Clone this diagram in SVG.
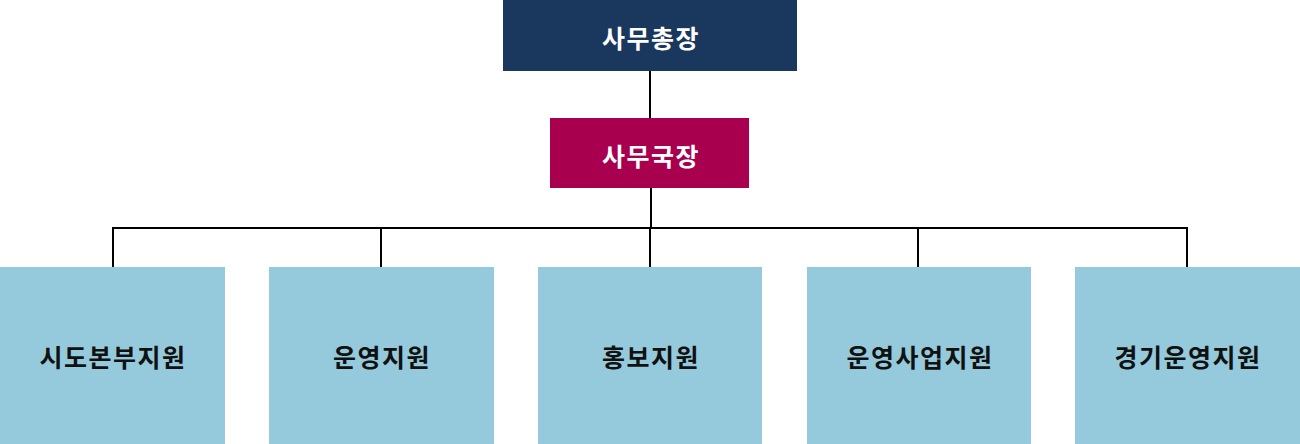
<svg xmlns="http://www.w3.org/2000/svg" width="1300" height="444" viewBox="0 0 1300 444">
<style>
.t{font-family:"Noto Sans CJK KR","Noto Sans",sans-serif;font-weight:bold;font-size:25px;letter-spacing:1.5px;text-anchor:middle;dominant-baseline:central}
.w{fill:#ffffff}
.k{fill:#111111}
.dept{fill:#94cadb}
.ln{stroke:#000;stroke-width:2;fill:none}
</style>
<rect width="1300" height="444" fill="#ffffff"/>
<g id="connectors">
<line class="ln" x1="650" y1="71" x2="650" y2="118"/>
<line class="ln" x1="651" y1="188" x2="651" y2="228"/>
<line class="ln" x1="112" y1="228" x2="1188" y2="228"/>
<line class="ln" x1="113" y1="227" x2="113" y2="267"/>
<line class="ln" x1="381" y1="227" x2="381" y2="267"/>
<line class="ln" x1="650" y1="227" x2="650" y2="267"/>
<line class="ln" x1="918" y1="227" x2="918" y2="267"/>
<line class="ln" x1="1187" y1="227" x2="1187" y2="267"/>
</g>
<g id="n-secgen">
<rect x="503" y="0" width="294" height="71" fill="#1a375e"/>
<text class="t w" x="651" y="37">사무총장</text>
</g>
<g id="n-director">
<rect x="550" y="118" width="199" height="70" fill="#a8004f"/>
<text class="t w" x="651" y="155">사무국장</text>
</g>
<g id="n-d1">
<rect class="dept" x="0" y="267" width="225" height="177"/>
<text class="t k" x="113" y="356">시도본부지원</text>
</g>
<g id="n-d2">
<rect class="dept" x="269" y="267" width="225" height="177"/>
<text class="t k" x="382" y="356">운영지원</text>
</g>
<g id="n-d3">
<rect class="dept" x="538" y="267" width="224" height="177"/>
<text class="t k" x="651" y="356">홍보지원</text>
</g>
<g id="n-d4">
<rect class="dept" x="807" y="267" width="224" height="177"/>
<text class="t k" x="920" y="356">운영사업지원</text>
</g>
<g id="n-d5">
<rect class="dept" x="1075" y="267" width="225" height="177"/>
<text class="t k" x="1188" y="356">경기운영지원</text>
</g>
</svg>
